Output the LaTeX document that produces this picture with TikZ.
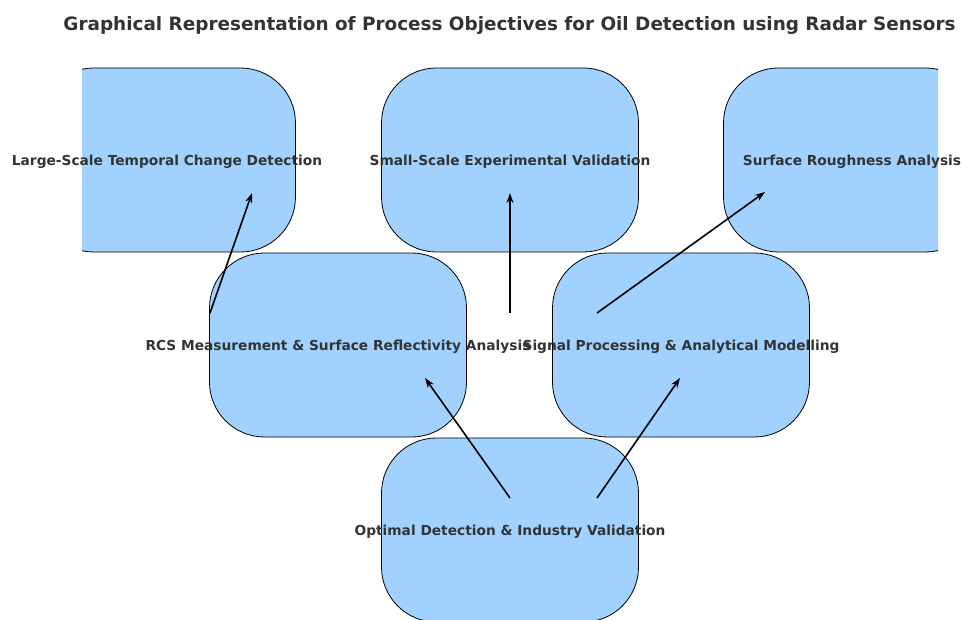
\documentclass[tikz,border=0pt]{standalone}
\usepackage{fontspec}
\setmainfont{DejaVu Sans}
\usetikzlibrary{arrows.meta, calc}
\definecolor{boxblue}{RGB}{161,210,255}
\definecolor{inkgray}{RGB}{51,51,51}
\tikzstyle{objective} = [rectangle, rounded corners=55pt, minimum width=257pt, minimum height=184pt, draw=black, line width=0.8pt, fill=boxblue, inner sep=0pt]
\tikzstyle{caption} = [text=inkgray, font=\fontsize{13.75}{16}\selectfont\bfseries, inner sep=0pt, yshift=-2pt]
\tikzstyle{arrow} = [line width=1.6pt, ->, >={Stealth[length=10pt, width=7pt]}]

\begin{document}
\begin{tikzpicture}[x=1pt, y=1pt]
\useasboundingbox (0,0) rectangle (963,619);
\node (title) [text=inkgray, font=\fontsize{18.4}{22}\selectfont\bfseries] at (509.5,593) {Graphical Representation of Process Objectives for Oil Detection using Radar Sensors};
% boxes are cut at the plot frame
\begin{scope}
\clip (82,0) rectangle (938,619);
\node (large) [objective] at (167,459) {};
\node (small) [objective] at (510,459) {};
\node (rough) [objective] at (852,459) {};
\node (rcs) [objective] at (338,274) {};
\node (signal) [objective] at (681,274) {};
\node (optimal) [objective] at (510,89) {};
\end{scope}
\draw [arrow] ($(rcs)+(-128,32)$) -- ($(large)+(85,-33)$);
\draw [arrow] ($(rcs)+(172,32)$) -- ($(small)+(0,-33)$);
\draw [arrow] ($(signal)+(-84,32)$) -- ($(rough)+(-87,-32)$);
\draw [arrow] ($(optimal)+(0,32)$) -- ($(rcs)+(87,-33)$);
\draw [arrow] ($(optimal)+(87,32)$) -- ($(signal)+(-1,-33)$);
\node [caption] at (large) {Large-Scale Temporal Change Detection};
\node [caption] at (small) {Small-Scale Experimental Validation};
\node [caption] at (rough) {Surface Roughness Analysis};
\node [caption] at (rcs) {RCS Measurement \& Surface Reflectivity Analysis};
\node [caption] at (signal) {Signal Processing \& Analytical Modelling};
\node [caption] at (optimal) {Optimal Detection \& Industry Validation};
\end{tikzpicture}
\end{document}
